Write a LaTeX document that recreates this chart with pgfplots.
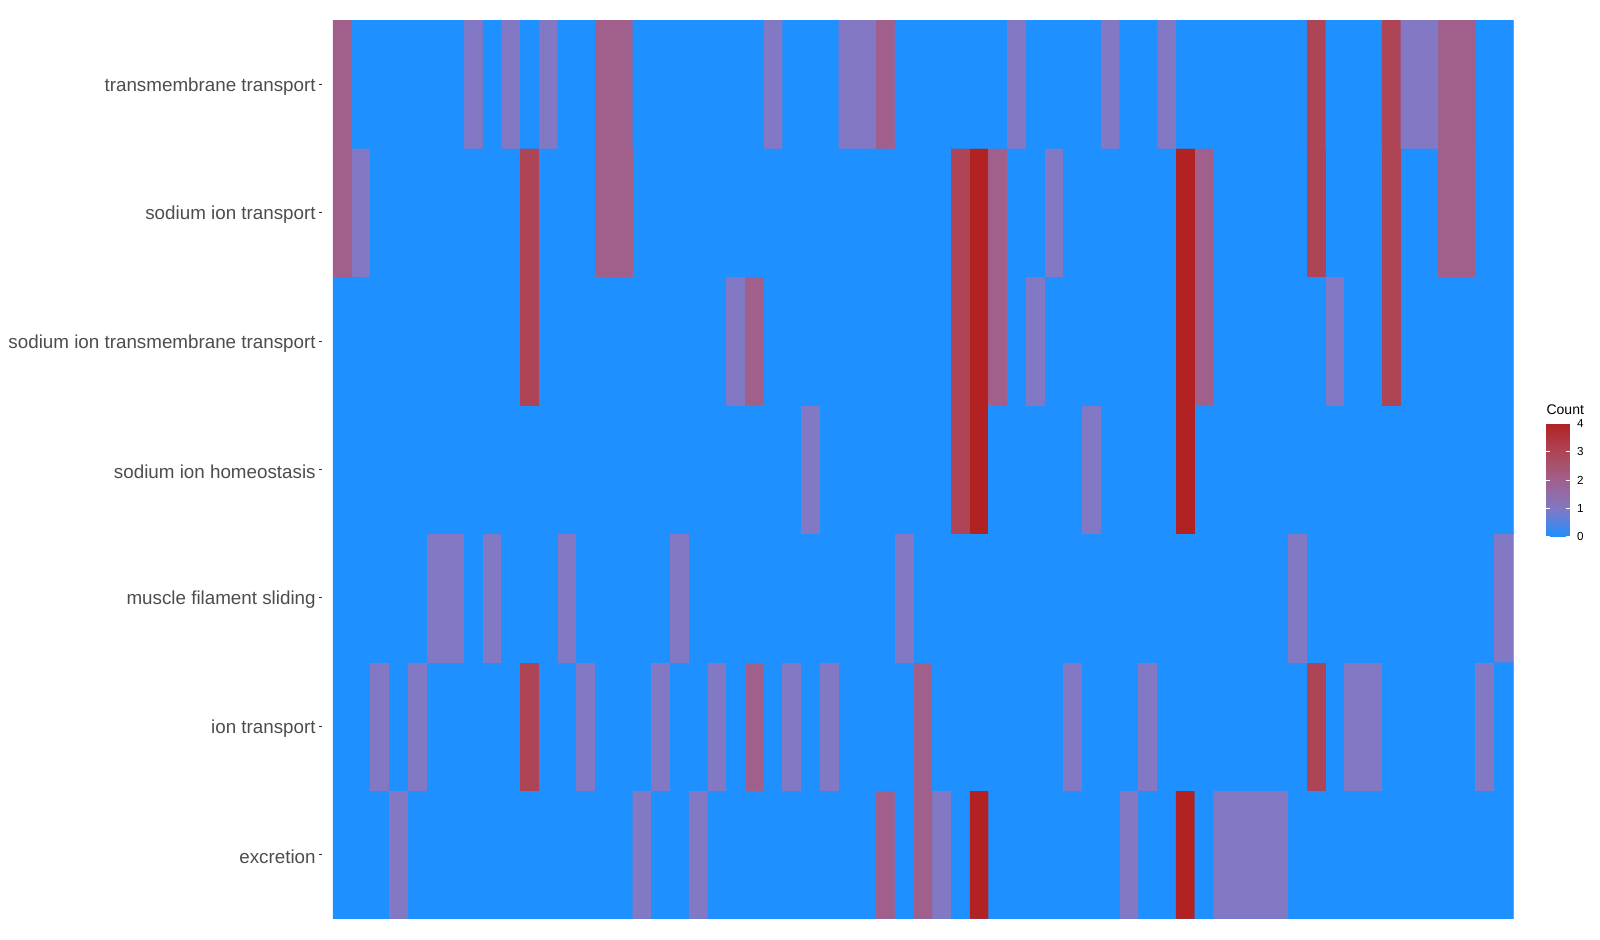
\documentclass[border=0pt]{standalone}
\usepackage{pgfplots}
\pgfplotsset{compat=1.18}
\usepackage{fontspec}
\setmainfont{Liberation Sans}
\definecolor{axtext}{HTML}{4D4D4D}
\definecolor{axtick}{HTML}{333333}
\definecolor{ggblue}{RGB}{30,144,255}
\begin{document}
\begin{tikzpicture}
\useasboundingbox (0,0) rectangle (960pt,564pt);
\begin{axis}[
  at={(193.2pt,12.78pt)}, anchor=south west,
  scale only axis, width=721.5pt, height=539.2pt,
  xmin=-1.1, xmax=63.1, ymin=-0.5, ymax=6.5,
  axis line style={draw=none},
  xtick=\empty,
  ytick={0,...,6},
  yticklabels={excretion, ion transport, muscle filament sliding, sodium ion homeostasis, sodium ion transmembrane transport, sodium ion transport, transmembrane transport},
  ytick pos=left, tick align=outside, major tick length=1.8pt,
  ytick style={draw=axtick, line width=0.5pt},
  yticklabel style={font=\fontsize{11.28}{13}\selectfont, text=axtext, inner sep=0pt, xshift=-1.8pt, yshift=-1.4pt},
  colormap={gg}{rgb255(0)=(30,144,255) rgb255(1)=(130,120,196) rgb255(2)=(161,96,140) rgb255(3)=(174,69,86) rgb255(4)=(178,34,34)},
  point meta min=0, point meta max=4,
  colorbar right,
  colorbar style={
    at={(parent axis.south east)}, anchor=south west,
    xshift=4.5pt, yshift=229.2pt,
    scale only axis, width=14pt, height=68pt,
    axis line style={draw=none},
    ytick={0,1,2,3,4},
    ytick pos=both, yticklabel pos=right,
    tick align=inside, major tick length=2.4pt,
    ytick style={draw=white, line width=0.5pt},
    yticklabel style={font=\fontsize{7}{8}\selectfont, text=black, inner sep=0pt, xshift=4.4pt},
    /pgf/number format/assume math mode=true,
    title={Count},
    title style={at={(0,1)}, anchor=south west, inner sep=0pt, yshift=-1.1pt, font=\fontsize{8.4}{10}\selectfont},
  },
]
\fill[ggblue] (axis cs:-0.5,-0.5) rectangle (axis cs:62.5,6.5);
\addplot[matrix plot*, mesh/cols=63, mesh/rows=7, point meta=explicit] coordinates {
(0,0)[0] (1,0)[0] (2,0)[0] (3,0)[1] (4,0)[0] (5,0)[0] (6,0)[0] (7,0)[0] (8,0)[0] (9,0)[0]
(10,0)[0] (11,0)[0] (12,0)[0] (13,0)[0] (14,0)[0] (15,0)[0] (16,0)[1] (17,0)[0] (18,0)[0] (19,0)[1]
(20,0)[0] (21,0)[0] (22,0)[0] (23,0)[0] (24,0)[0] (25,0)[0] (26,0)[0] (27,0)[0] (28,0)[0] (29,0)[2]
(30,0)[0] (31,0)[2] (32,0)[1] (33,0)[0] (34,0)[4] (35,0)[0] (36,0)[0] (37,0)[0] (38,0)[0] (39,0)[0]
(40,0)[0] (41,0)[0] (42,0)[1] (43,0)[0] (44,0)[0] (45,0)[4] (46,0)[0] (47,0)[1] (48,0)[1] (49,0)[1]
(50,0)[1] (51,0)[0] (52,0)[0] (53,0)[0] (54,0)[0] (55,0)[0] (56,0)[0] (57,0)[0] (58,0)[0] (59,0)[0]
(60,0)[0] (61,0)[0] (62,0)[0]
(0,1)[0] (1,1)[0] (2,1)[1] (3,1)[0] (4,1)[1] (5,1)[0] (6,1)[0] (7,1)[0] (8,1)[0] (9,1)[0]
(10,1)[3] (11,1)[0] (12,1)[0] (13,1)[1] (14,1)[0] (15,1)[0] (16,1)[0] (17,1)[1] (18,1)[0] (19,1)[0]
(20,1)[1] (21,1)[0] (22,1)[2] (23,1)[0] (24,1)[1] (25,1)[0] (26,1)[1] (27,1)[0] (28,1)[0] (29,1)[0]
(30,1)[0] (31,1)[2] (32,1)[0] (33,1)[0] (34,1)[0] (35,1)[0] (36,1)[0] (37,1)[0] (38,1)[0] (39,1)[1]
(40,1)[0] (41,1)[0] (42,1)[0] (43,1)[1] (44,1)[0] (45,1)[0] (46,1)[0] (47,1)[0] (48,1)[0] (49,1)[0]
(50,1)[0] (51,1)[0] (52,1)[3] (53,1)[0] (54,1)[1] (55,1)[1] (56,1)[0] (57,1)[0] (58,1)[0] (59,1)[0]
(60,1)[0] (61,1)[1] (62,1)[0]
(0,2)[0] (1,2)[0] (2,2)[0] (3,2)[0] (4,2)[0] (5,2)[1] (6,2)[1] (7,2)[0] (8,2)[1] (9,2)[0]
(10,2)[0] (11,2)[0] (12,2)[1] (13,2)[0] (14,2)[0] (15,2)[0] (16,2)[0] (17,2)[0] (18,2)[1] (19,2)[0]
(20,2)[0] (21,2)[0] (22,2)[0] (23,2)[0] (24,2)[0] (25,2)[0] (26,2)[0] (27,2)[0] (28,2)[0] (29,2)[0]
(30,2)[1] (31,2)[0] (32,2)[0] (33,2)[0] (34,2)[0] (35,2)[0] (36,2)[0] (37,2)[0] (38,2)[0] (39,2)[0]
(40,2)[0] (41,2)[0] (42,2)[0] (43,2)[0] (44,2)[0] (45,2)[0] (46,2)[0] (47,2)[0] (48,2)[0] (49,2)[0]
(50,2)[0] (51,2)[1] (52,2)[0] (53,2)[0] (54,2)[0] (55,2)[0] (56,2)[0] (57,2)[0] (58,2)[0] (59,2)[0]
(60,2)[0] (61,2)[0] (62,2)[1]
(0,3)[0] (1,3)[0] (2,3)[0] (3,3)[0] (4,3)[0] (5,3)[0] (6,3)[0] (7,3)[0] (8,3)[0] (9,3)[0]
(10,3)[0] (11,3)[0] (12,3)[0] (13,3)[0] (14,3)[0] (15,3)[0] (16,3)[0] (17,3)[0] (18,3)[0] (19,3)[0]
(20,3)[0] (21,3)[0] (22,3)[0] (23,3)[0] (24,3)[0] (25,3)[1] (26,3)[0] (27,3)[0] (28,3)[0] (29,3)[0]
(30,3)[0] (31,3)[0] (32,3)[0] (33,3)[3] (34,3)[4] (35,3)[0] (36,3)[0] (37,3)[0] (38,3)[0] (39,3)[0]
(40,3)[1] (41,3)[0] (42,3)[0] (43,3)[0] (44,3)[0] (45,3)[4] (46,3)[0] (47,3)[0] (48,3)[0] (49,3)[0]
(50,3)[0] (51,3)[0] (52,3)[0] (53,3)[0] (54,3)[0] (55,3)[0] (56,3)[0] (57,3)[0] (58,3)[0] (59,3)[0]
(60,3)[0] (61,3)[0] (62,3)[0]
(0,4)[0] (1,4)[0] (2,4)[0] (3,4)[0] (4,4)[0] (5,4)[0] (6,4)[0] (7,4)[0] (8,4)[0] (9,4)[0]
(10,4)[3] (11,4)[0] (12,4)[0] (13,4)[0] (14,4)[0] (15,4)[0] (16,4)[0] (17,4)[0] (18,4)[0] (19,4)[0]
(20,4)[0] (21,4)[1] (22,4)[2] (23,4)[0] (24,4)[0] (25,4)[0] (26,4)[0] (27,4)[0] (28,4)[0] (29,4)[0]
(30,4)[0] (31,4)[0] (32,4)[0] (33,4)[3] (34,4)[4] (35,4)[2] (36,4)[0] (37,4)[1] (38,4)[0] (39,4)[0]
(40,4)[0] (41,4)[0] (42,4)[0] (43,4)[0] (44,4)[0] (45,4)[4] (46,4)[2] (47,4)[0] (48,4)[0] (49,4)[0]
(50,4)[0] (51,4)[0] (52,4)[0] (53,4)[1] (54,4)[0] (55,4)[0] (56,4)[3] (57,4)[0] (58,4)[0] (59,4)[0]
(60,4)[0] (61,4)[0] (62,4)[0]
(0,5)[2] (1,5)[1] (2,5)[0] (3,5)[0] (4,5)[0] (5,5)[0] (6,5)[0] (7,5)[0] (8,5)[0] (9,5)[0]
(10,5)[3] (11,5)[0] (12,5)[0] (13,5)[0] (14,5)[2] (15,5)[2] (16,5)[0] (17,5)[0] (18,5)[0] (19,5)[0]
(20,5)[0] (21,5)[0] (22,5)[0] (23,5)[0] (24,5)[0] (25,5)[0] (26,5)[0] (27,5)[0] (28,5)[0] (29,5)[0]
(30,5)[0] (31,5)[0] (32,5)[0] (33,5)[3] (34,5)[4] (35,5)[2] (36,5)[0] (37,5)[0] (38,5)[1] (39,5)[0]
(40,5)[0] (41,5)[0] (42,5)[0] (43,5)[0] (44,5)[0] (45,5)[4] (46,5)[2] (47,5)[0] (48,5)[0] (49,5)[0]
(50,5)[0] (51,5)[0] (52,5)[3] (53,5)[0] (54,5)[0] (55,5)[0] (56,5)[3] (57,5)[0] (58,5)[0] (59,5)[2]
(60,5)[2] (61,5)[0] (62,5)[0]
(0,6)[2] (1,6)[0] (2,6)[0] (3,6)[0] (4,6)[0] (5,6)[0] (6,6)[0] (7,6)[1] (8,6)[0] (9,6)[1]
(10,6)[0] (11,6)[1] (12,6)[0] (13,6)[0] (14,6)[2] (15,6)[2] (16,6)[0] (17,6)[0] (18,6)[0] (19,6)[0]
(20,6)[0] (21,6)[0] (22,6)[0] (23,6)[1] (24,6)[0] (25,6)[0] (26,6)[0] (27,6)[1] (28,6)[1] (29,6)[2]
(30,6)[0] (31,6)[0] (32,6)[0] (33,6)[0] (34,6)[0] (35,6)[0] (36,6)[1] (37,6)[0] (38,6)[0] (39,6)[0]
(40,6)[0] (41,6)[1] (42,6)[0] (43,6)[0] (44,6)[1] (45,6)[0] (46,6)[0] (47,6)[0] (48,6)[0] (49,6)[0]
(50,6)[0] (51,6)[0] (52,6)[3] (53,6)[0] (54,6)[0] (55,6)[0] (56,6)[3] (57,6)[1] (58,6)[1] (59,6)[2]
(60,6)[2] (61,6)[0] (62,6)[0]
};
\end{axis}
\end{tikzpicture}
\end{document}
